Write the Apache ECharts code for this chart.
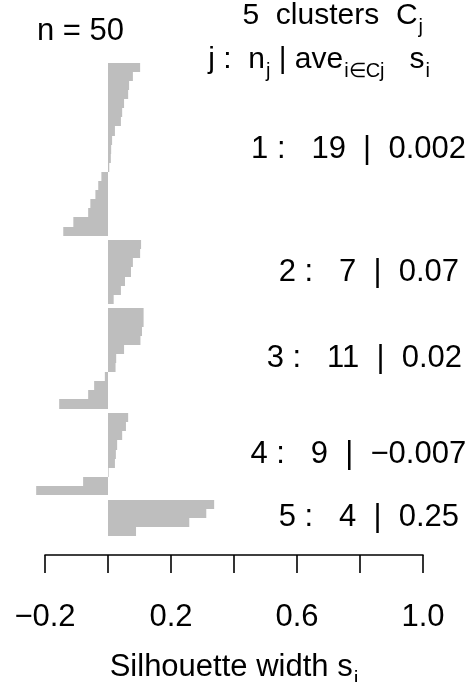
<!DOCTYPE html>
<html>
<head>
<meta charset="utf-8">
<script src="https://cdn.jsdelivr.net/npm/echarts@6/dist/echarts.min.js"></script>
<style>
  html, body { margin: 0; padding: 0; background: #ffffff; }
  #chart { width: 472px; height: 682px; }
</style>
</head>
<body>
<div id="chart"></div>
<script>
// Silhouette widths s(i), sorted within each cluster
const cluster1 = [0.102, 0.079, 0.067, 0.064, 0.051, 0.045, 0.041, 0.022, 0.013, 0.010,
                  0.009, 0.004, -0.021, -0.031, -0.040, -0.056, -0.063, -0.110, -0.142];
const cluster2 = [0.105, 0.102, 0.079, 0.073, 0.054, 0.041, 0.018];
const cluster3 = [0.113, 0.113, 0.108, 0.103, 0.051, 0.026, 0.024, -0.010, -0.044, -0.063, -0.155];
const cluster4 = [0.064, 0.057, 0.045, 0.029, 0.025, 0.022, 0.002, -0.079, -0.228];
const cluster5 = [0.337, 0.312, 0.258, 0.089];
const clusterIds = [1, 2, 3, 4, 5];

// x axis ticks and which ones carry a label
const tickValues = [-0.2, 0, 0.2, 0.4, 0.6, 0.8, 1.0];
const tickLabelValues = [-0.2, 0.2, 0.6, 1.0];

const FONT = '"Liberation Sans", Arial, Helvetica, sans-serif';
const MINUS = '\u2212';
const GAP = 0.5;            // space between clusters, in bar heights
const LABEL_SIZE = 31;
const HEAD_SIZE = 30;

const clusters = [cluster1, cluster2, cluster3, cluster4, cluster5];
const nTotal = clusters.reduce((s, c) => s + c.length, 0);

// like R's format(x, digits = 1, nsmall = 2)
function formatAvg(v) {
  const p = Number(v.toPrecision(1));
  const s = String(Math.abs(p));
  const dec = s.indexOf('.') >= 0 ? s.split('.')[1].length : 0;
  return v.toFixed(Math.max(2, dec)).replace('-', MINUS);
}

// bar rows: [width, slot start, cluster]
const barRows = [];
const clusterRows = [];
let slot = 0;
clusters.forEach((c, k) => {
  const start = slot;
  c.forEach((w, i) => barRows.push([w, start + i, clusterIds[k]]));
  const avg = c.reduce((s, v) => s + v, 0) / c.length;
  clusterRows.push([1.0, start + c.length / 2, clusterIds[k], c.length, avg]);
  slot += c.length + GAP;
});
const slotMax = slot - GAP;

const measureCtx = document.createElement('canvas').getContext('2d');
function textWidth(t, size) {
  measureCtx.font = size + 'px ' + FONT;
  return measureCtx.measureText(t).width;
}

const headRich = {
  m: { fontSize: HEAD_SIZE, lineHeight: HEAD_SIZE, fontFamily: FONT, fill: '#000', verticalAlign: 'top' },
  sub: { fontSize: 20, lineHeight: 20, fontFamily: FONT, fill: '#000', verticalAlign: 'top', padding: [16, 0, 0, 1] }
};

const chart = echarts.init(document.getElementById('chart'), null, { renderer: 'canvas' });

chart.setOption({
  backgroundColor: '#ffffff',
  animation: false,
  grid: { left: 45, right: 49, top: 62.7, bottom: 146, outerBoundsMode: 'none', containLabel: false },
  xAxis: {
    type: 'value',
    min: -0.2, max: 1.0, interval: 0.2,
    offset: 19,
    axisLine: { show: true, onZero: false, lineStyle: { color: '#000', width: 1.6 } },
    axisTick: { show: true, length: 18, lineStyle: { color: '#000', width: 1.6 } },
    splitLine: { show: false },
    axisLabel: {
      margin: 47,
      fontSize: LABEL_SIZE,
      fontFamily: FONT,
      color: '#000',
      formatter: v => tickLabelValues.some(t => Math.abs(t - v) < 1e-9)
        ? v.toFixed(1).replace('-', MINUS) : ''
    },
    name: '{m|Silhouette width s}{sub|i}',
    nameLocation: 'middle',
    nameGap: 97,
    nameTextStyle: {
      color: '#000',
      fontFamily: FONT,
      rich: {
        m: { fontSize: 31, lineHeight: 31, fontFamily: FONT, color: '#000', verticalAlign: 'top' },
        sub: { fontSize: 21, lineHeight: 21, fontFamily: FONT, color: '#000', verticalAlign: 'top', padding: [17, 0, 0, 1] }
      }
    }
  },
  yAxis: {
    type: 'value',
    min: 0, max: slotMax,
    inverse: true,
    show: false
  },
  graphic: [
    {
      type: 'text', x: 37, y: 31,
      style: { text: 'n = ' + nTotal, fontSize: 31, fontFamily: FONT, fill: '#000',
               align: 'left', verticalAlign: 'middle' }
    },
    {
      type: 'text', x: 423, y: 1,
      style: {
        text: '{m|' + clusters.length + '  clusters  C}{sub|j}',
        align: 'right', verticalAlign: 'top', fill: '#000', rich: headRich
      }
    },
    {
      type: 'text', x: 430, y: 45,
      style: {
        text: '{m|j :  n}{sub|j}{m| | ave}{sub|i\u2208Cj}{m|   s}{sub|i}',
        align: 'right', verticalAlign: 'top', fill: '#000', rich: headRich
      }
    }
  ],
  series: [
    {
      type: 'custom',
      name: 'silhouette',
      coordinateSystem: 'cartesian2d',
      data: barRows,
      encode: { x: 0, y: 1 },
      clip: false,
      renderItem: (params, api) => {
        const w = api.value(0);
        const pos = api.value(1);
        const a = api.coord([0, pos]);
        const b = api.coord([w, pos + 1]);
        const top = Math.round(a[1]);
        const bottom = Math.round(b[1]);
        return {
          type: 'rect',
          shape: {
            x: Math.min(a[0], b[0]), y: top,
            width: Math.abs(b[0] - a[0]), height: bottom - top
          },
          style: { fill: '#bebebe' }
        };
      }
    },
    {
      type: 'custom',
      name: 'cluster stats',
      coordinateSystem: 'cartesian2d',
      data: clusterRows,
      encode: { x: 0, y: 1 },
      clip: false,
      renderItem: (params, api) => {
        const row = clusterRows[params.dataIndex];
        const txt = row[2] + ' :   ' + row[3] + '  |  ' + formatAvg(row[4]);
        const p = api.coord([row[0], row[1]]);
        const w = textWidth(txt, LABEL_SIZE);
        return {
          type: 'text',
          x: p[0] - 0.8 * w,
          y: p[1],
          style: {
            text: txt, fontSize: LABEL_SIZE, fontFamily: FONT, fill: '#000',
            align: 'left', verticalAlign: 'middle'
          }
        };
      }
    }
  ]
});
</script>
</body>
</html>
